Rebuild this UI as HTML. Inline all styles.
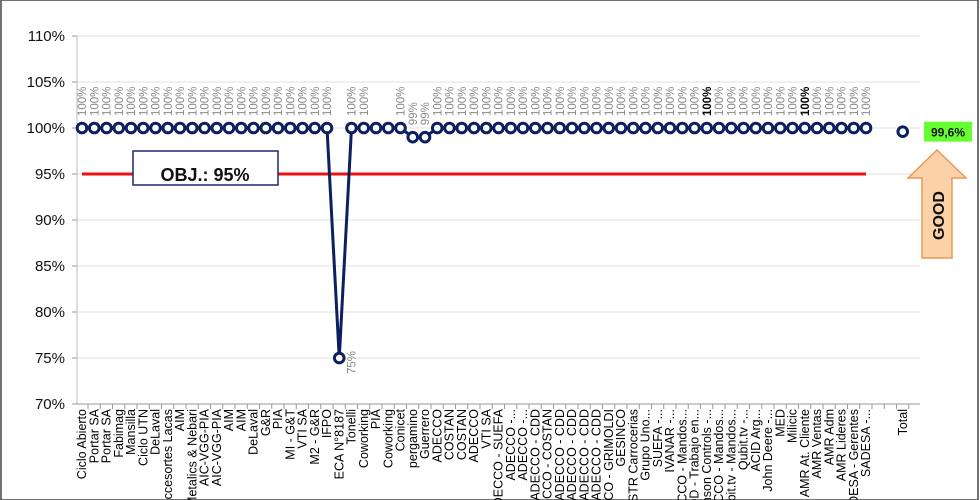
<!DOCTYPE html>
<html><head><meta charset="utf-8"><style>
html,body{margin:0;background:#fff;width:980px;height:500px;overflow:hidden;}
svg{display:block;font-family:"Liberation Sans",sans-serif;overflow:hidden;}
</style></head><body>
<svg id="chart" width="980" height="500" viewBox="0 0 980 500">
<defs><clipPath id="frameclip"><rect x="0" y="0" width="980" height="500"/></clipPath></defs>
<rect x="1" y="0" width="977" height="500" fill="#fff" stroke="#444" stroke-width="1.5"/>
<g id="grid"></g><g id="yaxis"></g><g clip-path="url(#frameclip)"><g id="xaxis"></g></g><g id="series"></g>
</svg>
<script>
const categories=["Ciclo Abierto","Portar SA","Portar SA","Fabimag","Mansilla","Ciclo UTN","DeLaval","Accesortes Lacas","AIM","Metalics & Nebari","AIC-VGG-PIA","AIC-VGG-PIA","AIM","AIM","DeLaval","G&R","PIA","MI - G&T","VTI SA","M2 - G&R","IFPO","ECA N°8187","Tonelli","Coworking","PIA","Coworking","Conicet","pergamino","Guerrero","ADECCO","COSTAN","COSTAN","ADECCO","VTI SA","ADECCO - SUEFA","ADECCO -...","ADECCO -...","ADECCO - CDD","ADECCO - COSTAN","ADECCO - CDD","ADECCO - CDD","ADECCO - CDD","ADECCO - CDD","ADECCO - GRIMOLDI","GESINCO","ASTR Carrocerias","Grupo Uno...","SUEFA -...","IVANAR -...","ADECCO - Mandos...","CDD - Trabajo en...","Johnson Controls -...","ADECCO - Mandos...","Qubit.tv - Mandos...","Qubit.tv -...","ACID Arg...","John Deere -...","MED","Milicic","AMR At. Cliente","AMR Ventas","AMR Adm","AMR Lideres","SADESA - Gerentes","SADESA -..."];
const values=[100,100,100,100,100,100,100,100,100,100,100,100,100,100,100,100,100,100,100,100,100,75,100,100,100,100,100,99,99,100,100,100,100,100,100,100,100,100,100,100,100,100,100,100,100,100,100,100,100,100,100,100,100,100,100,100,100,100,100,100,100,100,100,100,100];
const boldIdx=[51,59];
const hiddenLabels=[24,25];
const totalLabel="Total";
const totalValue=99.6;
const totalText="99,6%";
const objective=95;
const yTicks=[70,75,80,85,90,95,100,105,110];
const yTickLabels=["70%","75%","80%","85%","90%","95%","100%","105%","110%"];

const NS="http://www.w3.org/2000/svg";
const y=v=>128+(100-v)*9.2;
const x=i=>82+i*12.25;
const totalIdx=categories.length+2;
function mk(tag,attrs,parent,text){const e=document.createElementNS(NS,tag);for(const k in attrs)e.setAttribute(k,attrs[k]);if(text!==undefined)e.textContent=text;parent.appendChild(e);return e;}
const grid=document.getElementById('grid'),ya=document.getElementById('yaxis'),xa=document.getElementById('xaxis'),se=document.getElementById('series');
yTicks.forEach((t,k)=>{
 const g=mk('line',{x1:77,x2:920,y1:y(t),y2:y(t),stroke:'#e2e2e2','stroke-width':1},grid);
 
 
 mk('line',{x1:72,x2:77,y1:y(t),y2:y(t),stroke:'#999'},ya);
 const l=mk('text',{x:65,y:y(t)+5,'text-anchor':'end','font-size':15,fill:'#111'},ya,yTickLabels[k]);
 
 
});
mk('line',{x1:77,x2:77,y1:y(110),y2:y(70),stroke:'#bbb'},ya);
mk('line',{x1:77,x2:920,y1:y(70),y2:y(70),stroke:'#999'},xa);
const allCats=categories.concat(["","",totalLabel]);
allCats.forEach((c,i)=>{
 const px=x(i);
 mk('line',{x1:px+6,x2:px+6,y1:y(70),y2:y(70)+5,stroke:'#999'},xa);
 if(c){const t=mk('text',{transform:`translate(${px+4},${y(70)+5}) rotate(-90)`,'text-anchor':'end','font-size':12.5,fill:'#000'},xa,c);
 
 }
});
const ob=mk('line',{x1:x(0),x2:x(categories.length-1),y1:y(objective),y2:y(objective),stroke:'#ee1111','stroke-width':3},se);


const bx=mk('rect',{x:133,y:y(objective)-23,width:145,height:34,fill:'#fff',stroke:'#1a2a6c','stroke-width':1.5},se);


mk('text',{x:205,y:y(objective)+7,'text-anchor':'middle','font-size':18,'font-weight':'bold',fill:'#111'},se,"OBJ.: "+objective+"%");
const pl=mk('polyline',{points:values.map((v,i)=>x(i)+','+y(v)).join(' '),fill:'none',stroke:'#0c1f5e','stroke-width':3},se);


values.forEach((v,i)=>{
 const c=mk('circle',{cx:x(i),cy:y(v),r:4.8,fill:'#fff',stroke:'#0c1f5e','stroke-width':3},se);
 
 
 if(hiddenLabels.includes(i))return;
 const b=boldIdx.includes(i);
 let tx,ty;
 if(v<90){tx=x(i)+16;ty=y(v)+16;}else{tx=x(i)+4;ty=y(v)-12;}
 const lb=mk('text',{transform:`translate(${tx},${ty}) rotate(-90)`,'text-anchor':'start','font-size':11.5,fill:b?'#000':'#8a8a8a','font-weight':b?'bold':'normal'},se,Math.round(v)+"%");
 
 
});
const tc=mk('circle',{cx:x(totalIdx),cy:y(totalValue),r:4.8,fill:'#fff',stroke:'#0c1f5e','stroke-width':3},se);


const tb=mk('rect',{x:924,y:y(totalValue)-10,width:48,height:20,fill:'#66ff33'},se);


mk('text',{x:948,y:y(totalValue)+5,'text-anchor':'middle','font-size':12,'font-weight':'bold',fill:'#111'},se,totalText);
const ar=mk('polygon',{points:'937,150 966,178 952,178 952,258 922,258 922,178 908,178',fill:'#fbd2a8',stroke:'#e89a55','stroke-width':1.5},se);


const gt=mk('text',{transform:'translate(944,240) rotate(-90)','font-size':16,'font-weight':'bold',fill:'#111'},se,"GOOD");


</script>
</body></html>
